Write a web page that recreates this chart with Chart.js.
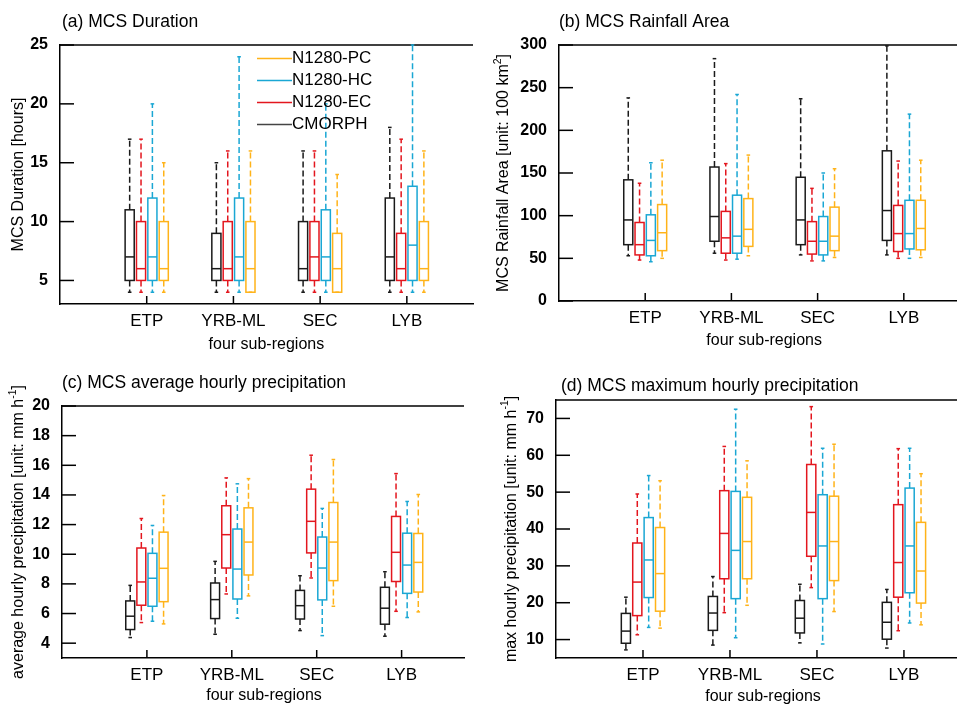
<!DOCTYPE html>
<html>
<head>
<meta charset="utf-8">
<script src="https://cdn.jsdelivr.net/npm/chart.js@4.4.1/dist/chart.umd.min.js"></script>
<style>
  html, body { margin: 0; padding: 0; background: #fff; }
  body { width: 957px; height: 705px; position: relative; overflow: hidden; }
  .panel { position: absolute; }
</style>
</head>
<body>
<div class="panel" style="left:0;top:0"><canvas id="chartA" width="478" height="352"></canvas></div>
<div class="panel" style="left:479px;top:0"><canvas id="chartB" width="478" height="352"></canvas></div>
<div class="panel" style="left:0;top:352px"><canvas id="chartC" width="478" height="353"></canvas></div>
<div class="panel" style="left:479px;top:352px"><canvas id="chartD" width="478" height="353"></canvas></div>
<script>
// sub-regions and series
const regions = ["ETP", "YRB-ML", "SEC", "LYB"];
const seriesNames = ["CMORPH", "N1280-EC", "N1280-HC", "N1280-PC"];
const seriesColors = ["#1a1a1a", "#e3161e", "#1aa7d4", "#ffb319"];
const legendOrder = [3, 2, 1, 0];

// every box is [min, q1, median, q3, max], one per region
const durCMORPH = [[4, 5, 7, 11, 17], [4, 5, 6, 9, 15], [4, 5, 6, 10, 16], [4, 5, 7, 12, 18]];
const durEC = [[4, 5, 6, 10, 17], [4, 5, 6, 10, 16], [4, 5, 7, 10, 16], [4, 5, 6, 9, 17]];
const durHC = [[4, 5, 7, 12, 20], [4, 5, 7, 12, 24], [4, 5, 7, 11, 20], [4, 5, 8, 13, 25]];
const durPC = [[4, 5, 6, 10, 15], [4, 4, 6, 10, 16], [4, 4, 6, 9, 14], [4, 5, 6, 10, 16]];

const areaCMORPH = [[53, 66, 95, 142, 238], [56, 70, 99, 157, 284], [54, 66, 95, 145, 237], [54, 71, 106, 176, 299]];
const areaEC = [[48, 54, 66, 92, 138], [48, 56, 74, 105, 161], [47, 55, 70, 93, 132], [50, 58, 79, 112, 164]];
const areaHC = [[46, 53, 71, 101, 162], [49, 56, 76, 124, 242], [47, 54, 70, 99, 150], [50, 61, 79, 118, 219]];
const areaPC = [[50, 59, 80, 113, 165], [53, 64, 84, 120, 171], [51, 59, 76, 110, 155], [51, 60, 85, 118, 165]];

const avgCMORPH = [[4.38, 4.92, 5.82, 6.85, 7.9], [4.6, 5.66, 6.94, 8.06, 9.52], [4.85, 5.63, 6.53, 7.56, 8.55], [4.47, 5.28, 6.36, 7.77, 8.82]];
const avgEC = [[5.39, 6.56, 8.13, 10.42, 12.41], [7.32, 9.07, 11.32, 13.27, 15.15], [8.4, 10.09, 12.22, 14.39, 16.68], [6.15, 8.16, 10.13, 12.55, 15.44]];
const avgHC = [[5.48, 6.49, 8.38, 10.06, 11.94], [5.68, 6.98, 9.0, 11.7, 14.75], [4.51, 6.92, 9.07, 11.16, 13.09], [5.73, 7.36, 9.27, 11.42, 13.56]];
const avgPC = [[5.3, 6.8, 9.05, 11.49, 13.96], [7.19, 8.6, 10.82, 13.13, 15.1], [6.49, 8.22, 10.82, 13.49, 16.39], [6.11, 7.45, 9.45, 11.4, 14.03]];

const maxCMORPH = [[7.2, 9.0, 12.3, 17.1, 21.5], [8.5, 12.5, 17.2, 21.7, 27.1], [9.1, 11.8, 15.8, 20.6, 25], [7.7, 10.1, 14.7, 20.1, 23.6]];
const maxEC = [[11.3, 16.5, 25.6, 36.2, 49.5], [17.3, 26.5, 38.8, 50.4, 62.4], [24.1, 32.6, 44.5, 57.5, 73.2], [12.4, 21.5, 30.9, 46.6, 61.8]];
const maxHC = [[13.3, 21.4, 31.6, 43.1, 54.5], [10.5, 21.1, 34.2, 50.2, 72.5], [8.8, 21.1, 35.4, 49.3, 61.9], [14.5, 22.7, 35.4, 51.1, 61.9]];
const maxPC = [[13.1, 17.7, 27.9, 40.4, 53.1], [19.3, 26.5, 36.6, 48.6, 58.5], [17.6, 26, 36.6, 48.9, 63], [14, 19.9, 28.6, 41.8, 55]];

// y tick labels
const durTicks = [5, 10, 15, 20, 25];
const areaTicks = [0, 50, 100, 150, 200, 250, 300];
const avgTicks = [4, 6, 8, 10, 12, 14, 16, 18, 20];
const maxTicks = [10, 20, 30, 40, 50, 60, 70];

const FONT = '"Liberation Sans", Arial, Helvetica, sans-serif';
Chart.defaults.font.family = FONT;
Chart.defaults.color = "#000";

const boxStep = 0.131;   // distance between boxes of one region (x units)
const boxWidth = 0.105;

function line(ctx, x1, y1, x2, y2) {
  ctx.beginPath();
  ctx.moveTo(x1, y1);
  ctx.lineTo(x2, y2);
  ctx.stroke();
}

// rotated axis title, parts with sup:true are drawn as superscripts
function drawYTitle(ctx, parts, cx, cy, size) {
  ctx.save();
  ctx.translate(cx, cy);
  ctx.rotate(-Math.PI / 2);
  ctx.textBaseline = "middle";
  ctx.textAlign = "left";
  let total = 0;
  parts.forEach(p => {
    ctx.font = (p.sup ? size * 0.65 : size) + "px " + FONT;
    total += ctx.measureText(p.t).width;
  });
  let x = -total / 2;
  parts.forEach(p => {
    ctx.font = (p.sup ? size * 0.65 : size) + "px " + FONT;
    ctx.fillText(p.t, x, p.sup ? -size * 0.38 : 0);
    x += ctx.measureText(p.t).width;
  });
  ctx.restore();
}

function makePanel(id, cfg) {
  const datasets = cfg.boxes.map((boxes, s) => ({
    label: seriesNames[s],
    borderColor: seriesColors[s],
    boxes: boxes,
    pointRadius: 0,
    data: boxes.map((b, i) => ({ x: i + 1 + (s - 1.5) * boxStep, y: b[2] }))
  }));

  const boxPlot = {
    id: "boxPlot",
    afterDraw(chart) {
      const { ctx, chartArea: a, scales: { x, y } } = chart;
      ctx.save();
      ctx.strokeStyle = "#000";
      ctx.lineWidth = 1.5;
      line(ctx, a.left, a.top, a.right, a.top);
      cfg.yTicks.forEach(v => {
        const py = y.getPixelForValue(v);
        line(ctx, a.left, py, a.left + 14, py);
      });
      regions.forEach((r, i) => {
        const px = x.getPixelForValue(i + 1);
        line(ctx, px, a.bottom, px, a.bottom - 8);
      });

      chart.data.datasets.forEach(ds => {
        ds.boxes.forEach((b, i) => {
          const xv = ds.data[i].x;
          const cx = x.getPixelForValue(xv);
          const half = x.getPixelForValue(xv + boxWidth / 2) - cx;
          const [mn, q1, md, q3, mx] = b.map(v => y.getPixelForValue(v));
          ctx.strokeStyle = ds.borderColor;
          ctx.lineWidth = 1.5;
          ctx.setLineDash([6, 3]);
          line(ctx, cx, q3, cx, mx);
          line(ctx, cx, q1, cx, mn);
          ctx.setLineDash([]);
          line(ctx, cx - 1.8, mx, cx + 1.8, mx);
          line(ctx, cx - 1.8, mn, cx + 1.8, mn);
          ctx.strokeRect(cx - half, q3, 2 * half, q1 - q3);
          line(ctx, cx - half, md, cx + half, md);
        });
      });

      // panel title
      ctx.fillStyle = "#000";
      ctx.font = "17.5px " + FONT;
      ctx.textBaseline = "alphabetic";
      ctx.textAlign = "left";
      ctx.fillText(cfg.title, cfg.titleX, cfg.titleY);

      // x axis title
      ctx.font = "16px " + FONT;
      ctx.textAlign = "center";
      ctx.textBaseline = "middle";
      ctx.fillText("four sub-regions", x.getPixelForValue(2.38), a.bottom + cfg.xTitleOff);

      drawYTitle(ctx, cfg.yTitle, cfg.yTitleX, (a.top + a.bottom) / 2, 16);

      if (cfg.legend) {
        ctx.font = "17px " + FONT;
        ctx.textAlign = "left";
        legendOrder.forEach((s, k) => {
          const ly = 58.5 + k * 22;
          ctx.strokeStyle = s === 0 ? "#444" : seriesColors[s];
          ctx.lineWidth = 1.5;
          line(ctx, 257, ly, 292, ly);
          ctx.fillText(seriesNames[s], 292, ly);
        });
      }
      ctx.restore();
    }
  };

  return new Chart(document.getElementById(id), {
    type: "scatter",
    data: { datasets },
    plugins: [boxPlot],
    options: {
      responsive: false,
      animation: false,
      events: [],
      layout: { padding: cfg.pad },
      plugins: { legend: { display: false }, tooltip: { enabled: false }, title: { display: false } },
      scales: {
        x: {
          type: "linear",
          min: 0,
          max: cfg.xMax,
          grid: { display: false, drawTicks: false },
          border: { display: true, color: "#000", width: 1.5 },
          ticks: {
            font: { size: 17 },
            color: "#000",
            padding: 7,
            autoSkip: false,
            maxRotation: 0,
            callback: v => regions[v - 1] || ""
          },
          afterBuildTicks: s => { s.ticks = regions.map((r, i) => ({ value: i + 1 })); },
          afterFit: s => { s.height = cfg.xH; }
        },
        y: {
          min: cfg.yMin,
          max: cfg.yMax,
          grid: { display: false, drawTicks: false },
          border: { display: true, color: "#000", width: 1.5 },
          ticks: { font: { size: 16, weight: "bold" }, color: "#000", padding: 12 },
          afterBuildTicks: s => { s.ticks = cfg.yTicks.map(v => ({ value: v })); },
          afterFit: s => { s.width = cfg.yW; }
        }
      }
    }
  });
}

makePanel("chartA", {
  title: "(a) MCS Duration", titleX: 62, titleY: 27,
  boxes: [durCMORPH, durEC, durHC, durPC],
  yMin: 3, yMax: 25, yTicks: durTicks,
  yTitle: [{ t: "MCS Duration [hours]" }], yTitleX: 19,
  pad: { left: 0, top: 45, right: 5, bottom: 0 }, yW: 60, xH: 48, xMax: 4.763,
  xTitleOff: 40.5, legend: true
});

makePanel("chartB", {
  title: "(b) MCS Rainfall Area", titleX: 80, titleY: 27,
  boxes: [areaCMORPH, areaEC, areaHC, areaPC],
  yMin: 0, yMax: 300, yTicks: areaTicks,
  yTitle: [{ t: "MCS Rainfall Area [unit: 100 km" }, { t: "2", sup: true }, { t: "]" }], yTitleX: 25,
  pad: { left: 0, top: 45, right: 0, bottom: 0 }, yW: 80, xH: 51, xMax: 4.617,
  xTitleOff: 40
});

makePanel("chartC", {
  title: "(c) MCS average hourly precipitation", titleX: 62, titleY: 36,
  boxes: [avgCMORPH, avgEC, avgHC, avgPC],
  yMin: 3, yMax: 20, yTicks: avgTicks,
  yTitle: [{ t: "average hourly precipitation [unit: mm h" }, { t: "-1", sup: true }, { t: "]" }], yTitleX: 19,
  pad: { left: 0, top: 54, right: 14, bottom: 0 }, yW: 62, xH: 47, xMax: 4.735,
  xTitleOff: 38
});

makePanel("chartD", {
  title: "(d) MCS maximum hourly precipitation", titleX: 82, titleY: 39,
  boxes: [maxCMORPH, maxEC, maxHC, maxPC],
  yMin: 5, yMax: 75, yTicks: maxTicks,
  yTitle: [{ t: "max hourly precipitation [unit: mm h" }, { t: "-1", sup: true }, { t: "]" }], yTitleX: 32.5,
  pad: { left: 0, top: 48, right: 0, bottom: 0 }, yW: 77, xH: 47, xMax: 4.61,
  xTitleOff: 38.5
});
</script>
</body>
</html>
